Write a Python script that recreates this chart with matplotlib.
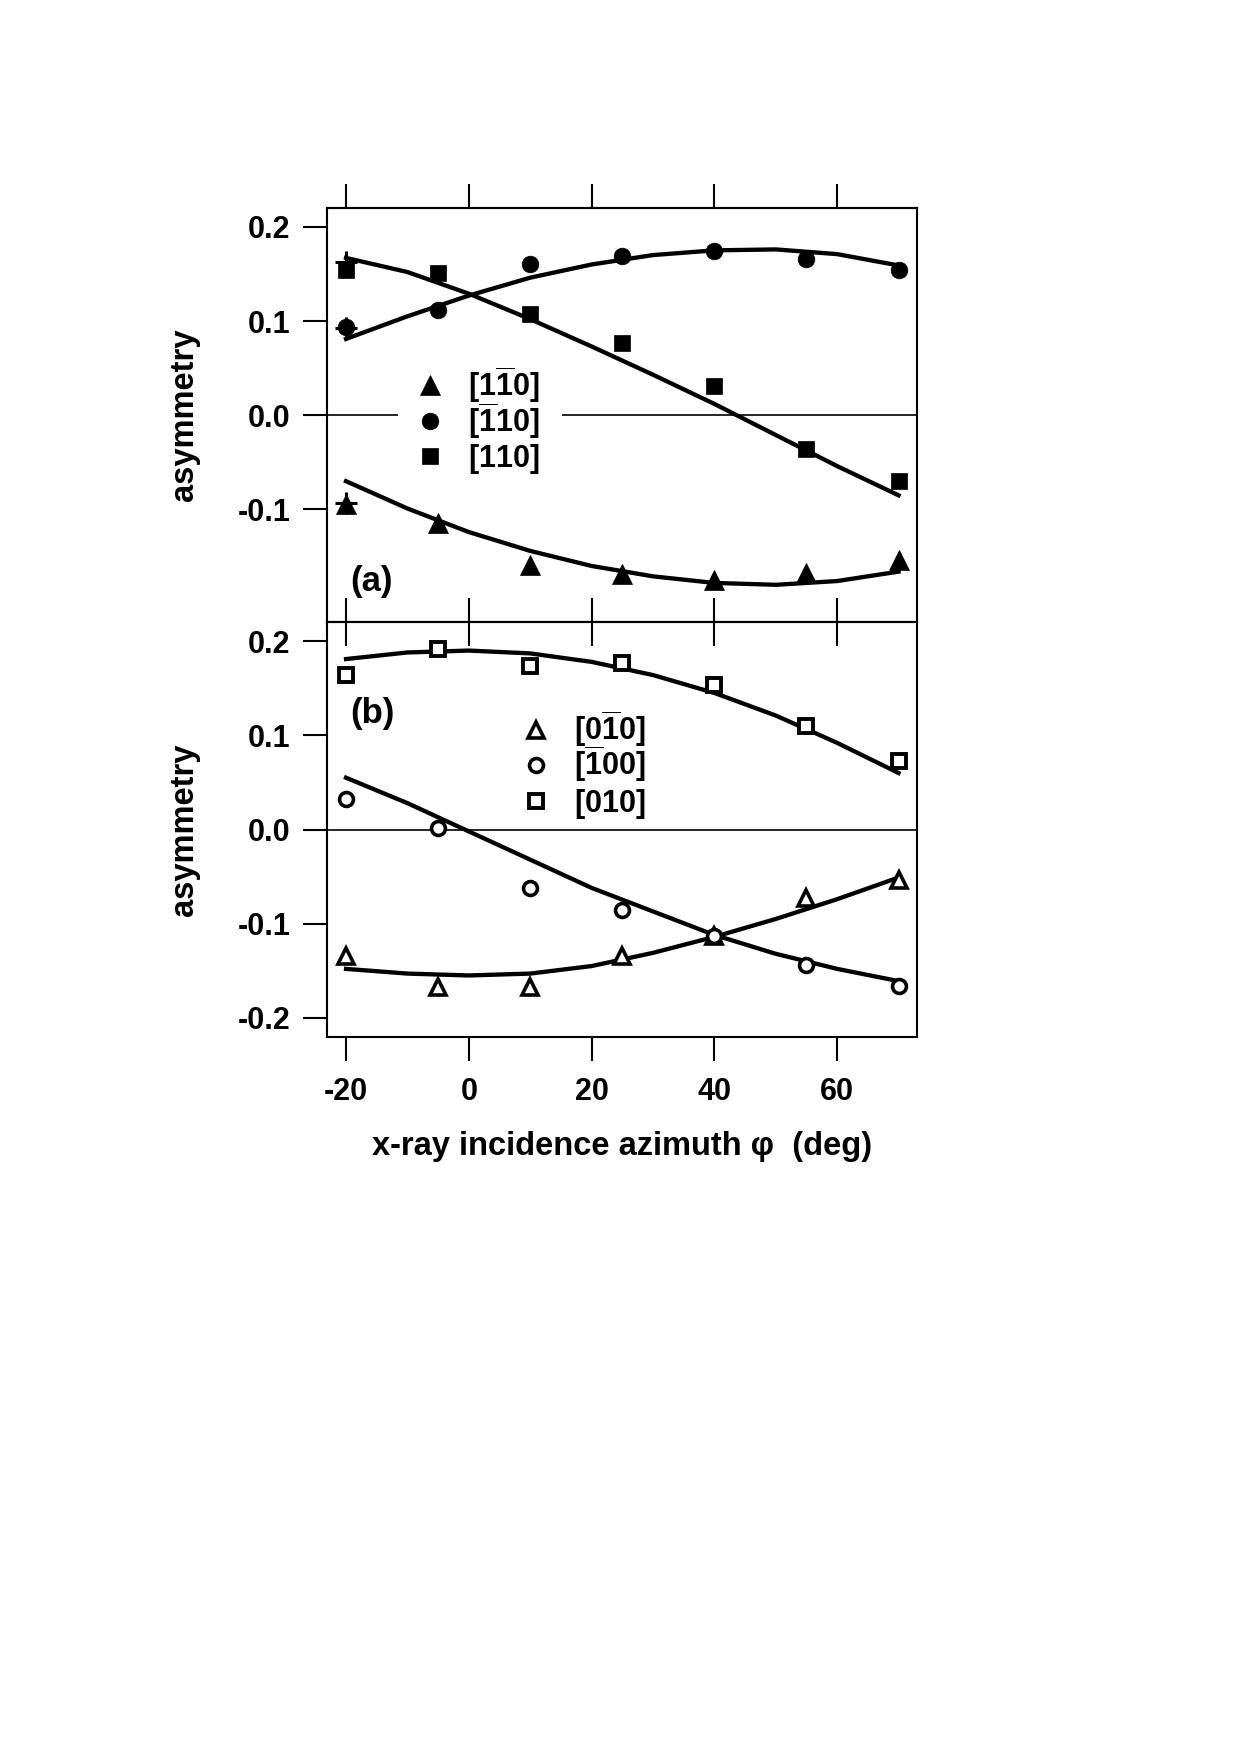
import matplotlib
matplotlib.use('Agg')
import matplotlib.pyplot as plt
from matplotlib.legend import Legend
from matplotlib.patches import Rectangle

plt.rcParams['font.family'] = ['Liberation Sans', 'DejaVu Sans']
plt.rcParams['font.weight'] = 'bold'
plt.rcParams['mathtext.fontset'] = 'custom'
plt.rcParams['mathtext.rm'] = 'Liberation Sans:bold'
plt.rcParams['mathtext.bf'] = 'Liberation Sans:bold'
plt.rcParams['mathtext.it'] = 'Liberation Sans:bold'
plt.rcParams['mathtext.default'] = 'bf'

# ---------------- data ----------------
phi = [-20, -5, 10, 25, 40, 55, 70]

# panel (a)
a_1m10 = [-0.094, -0.114, -0.159, -0.169, -0.175, -0.167, -0.154]   # filled triangles
a_m110 = [0.094, 0.112, 0.160, 0.169, 0.174, 0.166, 0.154]          # filled circles
a_110 = [0.154, 0.151, 0.107, 0.077, 0.031, -0.036, -0.070]         # filled squares
a_cross_phi = [-20, -20, -20]
a_cross_val = [0.163, 0.093, -0.093]

# panel (b)
b_0m10 = [-0.134, -0.167, -0.167, -0.134, -0.113, -0.073, -0.054]   # open triangles
b_m100 = [0.032, 0.002, -0.062, -0.086, -0.113, -0.144, -0.166]     # open circles
b_010 = [0.164, 0.192, 0.174, 0.177, 0.153, 0.110, 0.073]           # open squares

# fitted curves
fit_phi = [-20, -10, 0, 10, 20, 30, 40, 50, 60, 70]
fit_a_m110 = [0.081, 0.105, 0.127, 0.146, 0.160, 0.170, 0.175, 0.176, 0.171, 0.159]
fit_a_110 = [0.167, 0.152, 0.129, 0.102, 0.073, 0.043, 0.012, -0.021, -0.054, -0.085]
fit_a_1m10 = [-0.070, -0.099, -0.124, -0.144, -0.160, -0.171, -0.178, -0.180, -0.176, -0.166]
fit_b_010 = [0.181, 0.188, 0.190, 0.187, 0.178, 0.164, 0.145, 0.121, 0.092, 0.060]
fit_b_m100 = [0.055, 0.028, -0.002, -0.032, -0.062, -0.087, -0.112, -0.132, -0.148, -0.161]
fit_b_0m10 = [-0.148, -0.153, -0.155, -0.153, -0.145, -0.131, -0.114, -0.095, -0.074, -0.051]

labels_a = [r'$[1\overline{1}0]$', r'$[\overline{1}10]$', r'$[110]$']
labels_b = [r'$[0\overline{1}0]$', r'$[\overline{1}00]$', r'$[010]$']

xticks = [-20, 0, 20, 40, 60]
xticklabels = ['-20', '0', '20', '40', '60']
yticks_a = [0.2, 0.1, 0.0, -0.1]
yticklabels_a = ['0.2', '0.1', '0.0', '-0.1']
yticks_b = [0.2, 0.1, 0.0, -0.1, -0.2]
yticklabels_b = ['0.2', '0.1', '0.0', '-0.1', '-0.2']

xlabel = 'x-ray incidence azimuth φ  (deg)'
ylabel = 'asymmetry'

# ---------------- figure ----------------
fig = plt.figure(figsize=(12.4, 17.55), dpi=100)
axa = fig.add_axes([0.2637, 0.6453, 0.4758, 0.2362])
axb = fig.add_axes([0.2637, 0.4093, 0.4758, 0.2361])

TL = 17.3   # tick length (pt)
TW = 1.5
FS = 22
LW_FIT = 3.1

for ax in (axa, axb):
    ax.set_xlim(-23.1, 73.0)
    ax.set_ylim(-0.22, 0.22)
    ax.axhline(0, color='k', lw=1.2, zorder=1)
    for s in ax.spines.values():
        s.set_linewidth(1.5)
    ax.set_xticks(xticks)
    ax.tick_params(axis='y', direction='out', length=TL, width=TW, left=True,
                   right=False, labelsize=FS, pad=9)
    ax.set_ylabel(ylabel, fontsize=23.5, fontweight='bold')
    ax.yaxis.set_label_coords(-0.215, 0.5)

leg_kw = dict(loc='lower left', fontsize=FS, handlelength=1.5, frameon=False,
              handletextpad=0.5, borderpad=0.3, borderaxespad=0, numpoints=1)


def row_legends(ax, handles, labels, x0, y_rows):
    for h, lab, y in zip(handles, labels, y_rows):
        leg = Legend(ax, [h], [lab], bbox_to_anchor=(x0, y), **leg_kw)
        ax.add_artist(leg)


# panel (a)
# white background behind the legend (interrupts the zero line as in the original)
axa.add_patch(Rectangle((0.1203, 0.356), 0.278, 0.25, transform=axa.transAxes,
                        facecolor='white', edgecolor='none', zorder=1.5))
axa.plot(fit_phi, fit_a_1m10, color='k', lw=LW_FIT, zorder=2)
axa.plot(fit_phi, fit_a_m110, color='k', lw=LW_FIT, zorder=2)
axa.plot(fit_phi, fit_a_110, color='k', lw=LW_FIT, zorder=2)
ha = []
ha += axa.plot(phi, a_1m10, ls='none', marker='^', ms=15, color='k', mew=0.5, zorder=3)
ha += axa.plot(phi, a_m110, ls='none', marker='o', ms=12, color='k', mew=0.5, zorder=3)
ha += axa.plot(phi, a_110, ls='none', marker='s', ms=11.3, color='k', mew=0.5, zorder=3)
axa.plot(a_cross_phi, a_cross_val, ls='none', marker='+', ms=16, mew=2.2, color='k', zorder=3)

axa.set_yticks(yticks_a)
axa.set_yticklabels(yticklabels_a)
axa.tick_params(axis='x', direction='in', length=TL, width=TW, bottom=True, top=False,
                labelbottom=False)
seca = axa.secondary_xaxis('top')
seca.set_xticks(xticks)
seca.tick_params(axis='x', direction='out', length=TL, width=TW, labeltop=False)
seca.spines['top'].set_linewidth(1.5)

row_legends(axa, ha, labels_a, 0.12, [0.5024, 0.4163, 0.3311])
axa.text(0.039, 0.10, '(a)', transform=axa.transAxes, fontsize=25, fontweight='bold',
         va='center', ha='left')

# panel (b)
axb.plot(fit_phi, fit_b_0m10, color='k', lw=LW_FIT, zorder=2)
axb.plot(fit_phi, fit_b_m100, color='k', lw=LW_FIT, zorder=2)
axb.plot(fit_phi, fit_b_010, color='k', lw=LW_FIT, zorder=2)
hb = []
hb += axb.plot(phi, b_0m10, ls='none', marker='^', ms=12, mfc='white', mec='k', mew=2.6, zorder=3)
hb += axb.plot(phi, b_m100, ls='none', marker='o', ms=10, mfc='white', mec='k', mew=2.6, zorder=3)
hb += axb.plot(phi, b_010, ls='none', marker='s', ms=9.5, mfc='white', mec='k', mew=2.8, zorder=3)

axb.set_yticks(yticks_b)
axb.set_yticklabels(yticklabels_b)
axb.set_xticklabels(xticklabels)
axb.tick_params(axis='x', direction='out', length=TL, width=TW, bottom=True, top=False,
                labelbottom=True, labelsize=FS, pad=12)
secb = axb.secondary_xaxis('top')
secb.set_xticks(xticks)
secb.tick_params(axis='x', direction='in', length=TL, width=TW, labeltop=False)
secb.spines['top'].set_linewidth(1.5)

row_legends(axb, hb, labels_b, 0.30, [0.671, 0.5866, 0.498])
axb.text(0.039, 0.78, '(b)', transform=axb.transAxes, fontsize=25, fontweight='bold',
         va='center', ha='left')

axb.set_xlabel(xlabel, fontsize=23.5, fontweight='bold')
axb.xaxis.set_label_coords(0.5, -0.2275)

fig.savefig('out.png', dpi=100)
